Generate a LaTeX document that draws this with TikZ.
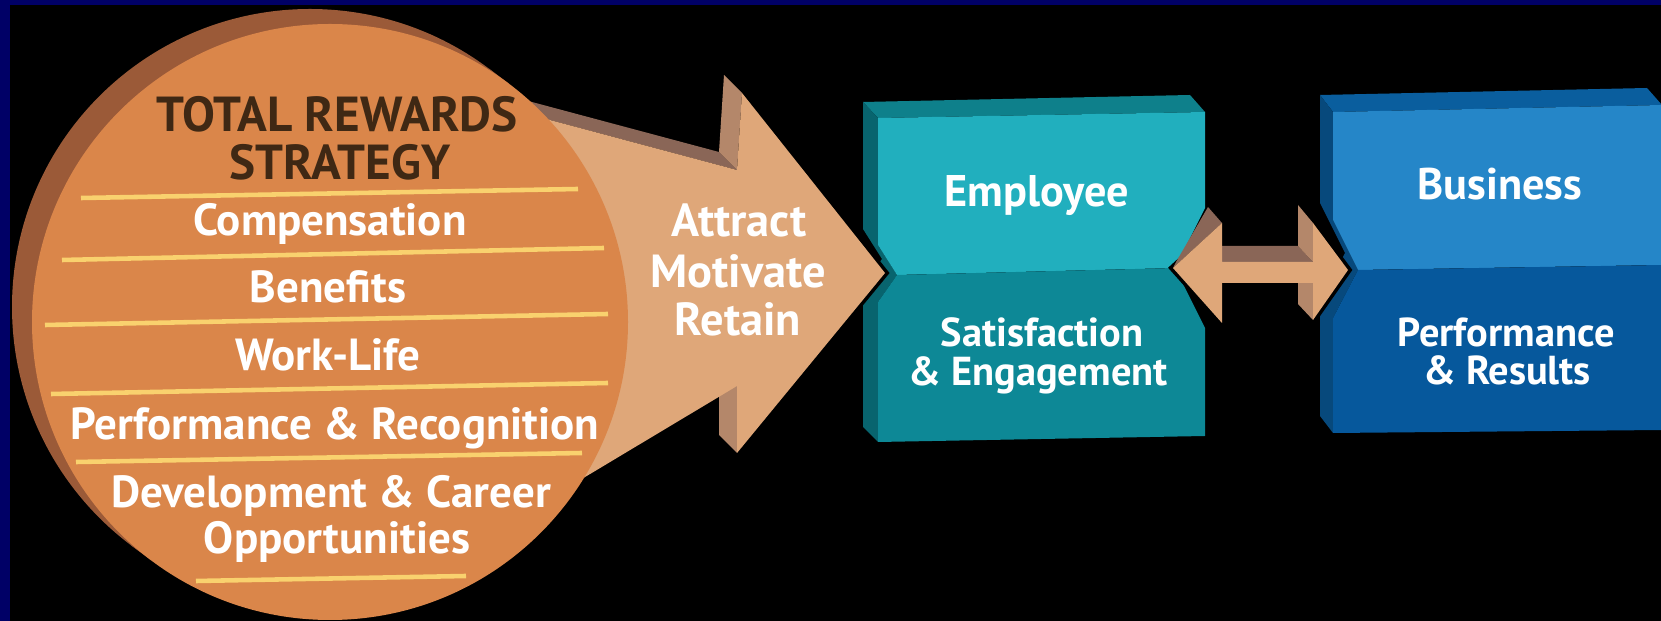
\documentclass[tikz,border=0pt]{standalone}
\usepackage{fontspec}
\setmainfont{PT Sans}
\usepackage{tikz}

\definecolor{frame}{HTML}{000066}
\definecolor{rim}{HTML}{9B5A38}
\definecolor{disc}{HTML}{DA864A}
\definecolor{rulegold}{HTML}{F9D16E}
\definecolor{headbrown}{HTML}{3F2814}
\definecolor{arrface}{HTML}{DFA779}
\definecolor{arrtop}{HTML}{8A6657}
\definecolor{arrside}{HTML}{B4876A}
\definecolor{tealtop}{HTML}{0E808B}
\definecolor{tealside}{HTML}{08646E}
\definecolor{tealhi}{HTML}{21AFBE}
\definecolor{teallo}{HTML}{0D8896}
\definecolor{bluetop}{HTML}{0A5E9E}
\definecolor{blueside}{HTML}{07497C}
\definecolor{bluehi}{HTML}{2586C8}
\definecolor{bluelo}{HTML}{06589C}

\tikzset{
  rule/.style={draw=rulegold, line width=1.3pt},
  gap/.style={draw=black, line width=2pt, line join=miter},
  head/.style={anchor=base, inner sep=0pt, text=headbrown, font=\bfseries\fontsize{14}{16}\selectfont},
  item/.style={anchor=base, inner sep=0pt, text=white, font=\bfseries\fontsize{12.8}{15}\selectfont},
  flow/.style={anchor=base, inner sep=0pt, text=white, font=\bfseries\fontsize{13.2}{15}\selectfont},
  boxhead/.style={anchor=base, inner sep=0pt, text=white, font=\bfseries\fontsize{12.6}{15}\selectfont},
  boxtxt/.style={anchor=base, inner sep=0pt, text=white, font=\bfseries\fontsize{11.5}{14}\selectfont}
}

\begin{document}
\begin{tikzpicture}[x=0.1mm, y=-0.1mm]
	\useasboundingbox (0,0) rectangle (1661,621);
	% background and frame
	\fill[black] (0,0) rectangle (1661,621);
	\fill[frame] (0,0) rectangle (1661,5.5);
	\fill[frame] (0,0) rectangle (10,621);

	% back rim of the disc
	\fill[rim] (310,307) circle[radius=298];
	\fill[rim] (508.8,83.6) -- (488.8,68.6) -- (131.2,545.4) -- (151.2,560.4) -- cycle;

	% employee block
	\fill[tealtop] (863,102) -- (1190,95) -- (1205,112) -- (878,118) -- cycle;
	\fill[tealside] (863,102) -- (878,118) -- (878,245) -- (897,275) -- (878,302) -- (878,442) -- (863,427) -- (863,286) -- (882,259) -- (863,229) -- cycle;
	\fill[tealhi] (878,118) -- (1205,112) -- (1205,208) -- (1175,268) -- (897,275) -- (878,245) -- cycle;
	\fill[teallo] (897,275) -- (1175,268) -- (1205,328) -- (1205,436) -- (878,442) -- (878,302) -- cycle;

	% business block
	\fill[bluetop] (1320,95) -- (1647,88) -- (1662,105) -- (1333,112) -- cycle;
	\fill[blueside] (1320,95) -- (1333,112) -- (1333,220) -- (1358,270) -- (1333,318) -- (1333,433) -- (1320,416) -- (1320,301) -- (1345,253) -- (1320,203) -- cycle;
	\fill[bluehi] (1333,112) -- (1662,105) -- (1662,265) -- (1358,270) -- (1333,220) -- cycle;
	\fill[bluelo] (1358,270) -- (1662,265) -- (1662,430) -- (1333,433) -- (1333,318) -- cycle;

	% big arrow
	\draw[gap] (742,93) -- (885,273) -- (737,453);
	\fill[arrtop] (502,94) -- (719,152) -- (737,170) -- (520,112) -- cycle;
	\fill[arrside] (724,75) -- (742,93) -- (737,170) -- (719,152) -- cycle;
	\fill[arrside] (719,368) -- (737,386) -- (737,453) -- (719,435) -- cycle;
	\fill[arrface] (520,112) -- (737,170) -- (742,93) -- (885,273) -- (737,453) -- (737,386) -- (540,504) -- cycle;

	% front of the disc
	\fill[disc] (330,322) circle[radius=298];
	\foreach \xa/\ya/\xb/\yb in {81/198/578/189, 62/260/604/248, 45/325/608/314, 51/394/608/383, 76/462/582/453, 196/581/466/576}
		\draw[rule] (\xa,\ya) -- (\xb,\yb);

	\node[head] (ttla) at (337,132) {TOTAL REWARDS};
	\node[head] (ttlb) at (340,180) {STRATEGY};
	\node[item] (comp) at (330,236) {Compensation};
	\node[item] (bene) at (328,303) {Benefits};
	\node[item] (work) at (328,371) {Work-Life};
	\node[item] (perf) at (335,440) {Performance \& Recognition};
	\node[item] (deva) at (331,508) {Development \& Career};
	\node[item] (devb) at (337,554) {Opportunities};

	% double arrow
	\draw[gap] (1222,223) -- (1173,268) -- (1222,323);
	\draw[gap] (1313,223) -- (1348,270) -- (1313,320);
	\fill[arrtop] (1176,262) -- (1208,207) -- (1222,223) -- (1173,268) -- cycle;
	\fill[arrtop] (1208,246) -- (1298,246) -- (1313,262) -- (1222,262) -- cycle;
	\fill[arrside] (1298,205) -- (1313,223) -- (1313,262) -- (1298,246) -- cycle;
	\fill[arrside] (1298,267) -- (1313,283) -- (1313,320) -- (1298,304) -- cycle;
	\fill[arrface] (1173,268) -- (1222,223) -- (1222,262) -- (1313,262) -- (1313,223) -- (1348,270) -- (1313,320) -- (1313,283) -- (1222,283) -- (1222,323) -- cycle;

	% labels
	\node[flow] (attr) at (739,237) {Attract};
	\node[flow] (moti) at (738,288) {Motivate};
	\node[flow] (reta) at (738,336) {Retain};
	\node[boxhead] (empl) at (1037,207) {Employee};
	\node[boxtxt] (sati) at (1042,347) {Satisfaction};
	\node[boxtxt] (enga) at (1038,386) {\& Engagement};
	\node[boxhead] (busi) at (1500,200) {Business};
	\node[boxtxt] (perb) at (1506,347) {Performance};
	\node[boxtxt] (resu) at (1507,385) {\& Results};
\end{tikzpicture}
\end{document}
